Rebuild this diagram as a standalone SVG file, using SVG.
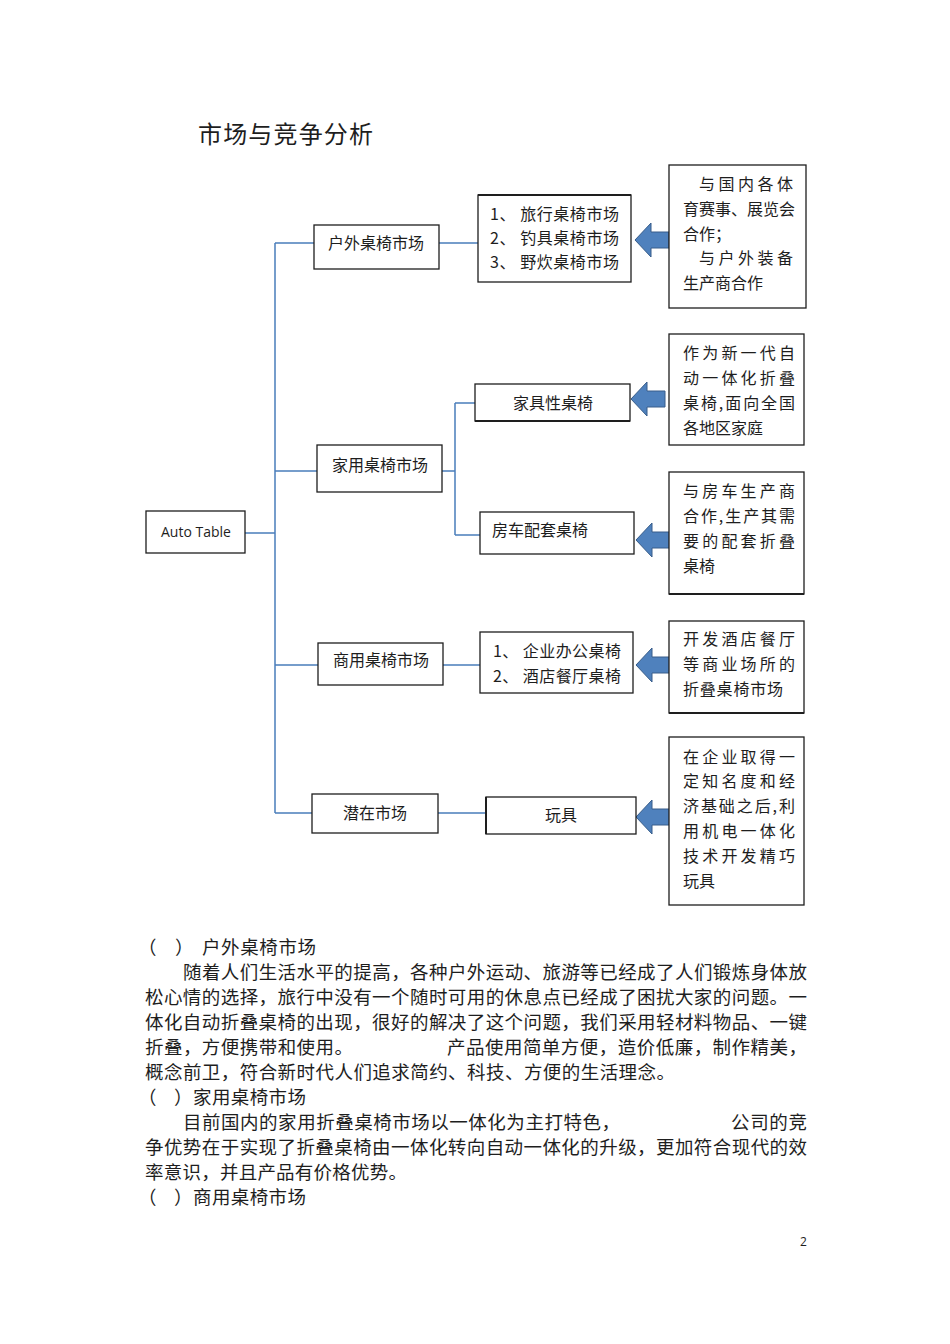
<svg xmlns="http://www.w3.org/2000/svg" width="950" height="1344" viewBox="0 0 950 1344">
<style>
.bx{fill:#fff;stroke:#1e1e1e;stroke-width:1.3}
.t{font-family:"Noto Sans CJK SC","Noto Sans",sans-serif;font-size:16px;fill:#1e1e1e}
.tc{font-family:"Noto Sans CJK SC","Noto Sans",sans-serif;font-size:16px;fill:#1e1e1e;text-anchor:middle}
.p{font-family:"Noto Sans CJK SC","Noto Sans",sans-serif;font-size:18.5px;fill:#1e1e1e}
.ln{fill:none;stroke:#4a7ebb;stroke-width:1.5}
.ar{fill:#4f81bd;stroke:#385d8a;stroke-width:1}
</style>
<defs>
<path id="arr" d="M0,0 L16,-17 L16,-8 L34,-8 L34,8 L16,8 L16,17 Z"/>
</defs>
<rect width="950" height="1344" fill="#fff"/>
<text x="198" y="143" style="font-family:'Noto Sans CJK SC',sans-serif;font-size:24px;fill:#1e1e1e" textLength="175">市场与竞争分析</text>

<g id="connectors">
<path class="ln" d="M245,533 H275 M275,243 V813 M275,243 H314 M275,471 H317 M275,665 H318 M275,813 H312"/>
<path class="ln" d="M439,243 H478 M442,471 H455 M455,403 V535 M455,403 H475 M455,535 H480 M443,665 H480 M438,813 H486"/>
<use href="#arr" class="ar" transform="translate(635,240)"/>
<use href="#arr" class="ar" transform="translate(631,399)"/>
<use href="#arr" class="ar" transform="translate(636,540)"/>
<use href="#arr" class="ar" transform="translate(636,665)"/>
<use href="#arr" class="ar" transform="translate(636,817)"/>
</g>

<g id="root">
<rect class="bx" x="146" y="511" width="99" height="42"/>
<text x="196" y="537" style="font-family:'Open Sans','Liberation Sans',sans-serif;font-size:14px;fill:#1e1e1e;text-anchor:middle">Auto Table</text>
</g>

<g id="n-outdoor">
<rect class="bx" x="314" y="225" width="125" height="44"/>
<text class="tc" x="376" y="249">户外桌椅市场</text>
</g>
<g id="n-outdoor-list">
<rect class="bx" x="478" y="195" width="153" height="87"/>
<line x1="478" y1="195" x2="631" y2="195" stroke="#1e1e1e" stroke-width="2"/>
<text class="t" x="490" y="220" textLength="129">1、 旅行桌椅市场</text>
<text class="t" x="490" y="244" textLength="129">2、 钓具桌椅市场</text>
<text class="t" x="490" y="268" textLength="129">3、 野炊桌椅市场</text>
</g>
<g id="n-outdoor-note">
<rect class="bx" x="669" y="165" width="137" height="143"/>
<text class="t" x="699" y="190" textLength="94">与国内各体</text>
<text class="t" x="683" y="215" textLength="112">育赛事、展览会</text>
<text class="t" x="683" y="240">合作；</text>
<text class="t" x="699" y="264" textLength="94">与户外装备</text>
<text class="t" x="683" y="289">生产商合作</text>
</g>

<g id="n-home">
<rect class="bx" x="317" y="445" width="125" height="47"/>
<text class="tc" x="380" y="471">家用桌椅市场</text>
</g>
<g id="n-furniture">
<rect class="bx" x="475" y="384" width="155" height="37"/>
<line x1="475" y1="421" x2="630" y2="421" stroke="#1e1e1e" stroke-width="2"/>
<text class="tc" x="553" y="409">家具性桌椅</text>
</g>
<g id="n-furniture-note">
<rect class="bx" x="669" y="334" width="135" height="111"/>
<text class="t" x="683" y="359" textLength="112">作为新一代自</text>
<text class="t" x="683" y="384" textLength="112">动一体化折叠</text>
<text class="t" x="683" y="409" textLength="112">桌椅,面向全国</text>
<text class="t" x="683" y="434">各地区家庭</text>
</g>
<g id="n-rv">
<rect class="bx" x="480" y="512" width="154" height="42"/>
<text class="t" x="492" y="536">房车配套桌椅</text>
</g>
<g id="n-rv-note">
<rect class="bx" x="669" y="472" width="135" height="122"/>
<line x1="669" y1="594" x2="804" y2="594" stroke="#1e1e1e" stroke-width="2"/>
<text class="t" x="683" y="497" textLength="112">与房车生产商</text>
<text class="t" x="683" y="522" textLength="112">合作,生产其需</text>
<text class="t" x="683" y="547" textLength="112">要的配套折叠</text>
<text class="t" x="683" y="572">桌椅</text>
</g>

<g id="n-commercial">
<rect class="bx" x="318" y="643" width="125" height="42"/>
<text class="tc" x="381" y="666">商用桌椅市场</text>
</g>
<g id="n-commercial-list">
<rect class="bx" x="480" y="632" width="153" height="61"/>
<text class="t" x="493" y="657" textLength="128">1、 企业办公桌椅</text>
<text class="t" x="493" y="682" textLength="128">2、 酒店餐厅桌椅</text>
</g>
<g id="n-commercial-note">
<rect class="bx" x="669" y="621" width="135" height="92"/>
<line x1="669" y1="713" x2="804" y2="713" stroke="#1e1e1e" stroke-width="2"/>
<text class="t" x="683" y="645" textLength="112">开发酒店餐厅</text>
<text class="t" x="683" y="670" textLength="112">等商业场所的</text>
<text class="t" x="683" y="695" textLength="100">折叠桌椅市场</text>
</g>

<g id="n-potential">
<rect class="bx" x="312" y="794" width="126" height="39"/>
<text class="tc" x="375" y="819">潜在市场</text>
</g>
<g id="n-toy">
<rect class="bx" x="486" y="797" width="150" height="37"/>
<line x1="486" y1="797" x2="486" y2="834" stroke="#1e1e1e" stroke-width="2"/>
<text class="tc" x="561" y="821">玩具</text>
</g>
<g id="n-toy-note">
<rect class="bx" x="669" y="737" width="135" height="168"/>
<text class="t" x="683" y="763" textLength="112">在企业取得一</text>
<text class="t" x="683" y="787" textLength="112">定知名度和经</text>
<text class="t" x="683" y="812" textLength="112">济基础之后,利</text>
<text class="t" x="683" y="837" textLength="112">用机电一体化</text>
<text class="t" x="683" y="862" textLength="112">技术开发精巧</text>
<text class="t" x="683" y="887">玩具</text>
</g>

<g id="body">
<text class="p" x="138" y="954">（</text>
<text class="p" x="175" y="954">）</text>
<text class="p" x="202" y="954" textLength="114">户外桌椅市场</text>
<text class="p" x="183" y="979" textLength="624">随着人们生活水平的提高，各种户外运动、旅游等已经成了人们锻炼身体放</text>
<text class="p" x="145" y="1004" textLength="662">松心情的选择，旅行中没有一个随时可用的休息点已经成了困扰大家的问题。一</text>
<text class="p" x="145" y="1029" textLength="662">体化自动折叠桌椅的出现，很好的解决了这个问题，我们采用轻材料物品、一键</text>
<text class="p" x="145" y="1054" textLength="208">折叠，方便携带和使用。</text>
<text class="p" x="447" y="1054" textLength="360">产品使用简单方便，造价低廉，制作精美，</text>
<text class="p" x="145" y="1079" textLength="530">概念前卫，符合新时代人们追求简约、科技、方便的生活理念。</text>
<text class="p" x="138" y="1104">（</text>
<text class="p" x="174" y="1104">）</text>
<text class="p" x="193" y="1104" textLength="113">家用桌椅市场</text>
<text class="p" x="183" y="1129" textLength="437">目前国内的家用折叠桌椅市场以一体化为主打特色，</text>
<text class="p" x="731" y="1129" textLength="76">公司的竞</text>
<text class="p" x="145" y="1154" textLength="662">争优势在于实现了折叠桌椅由一体化转向自动一体化的升级，更加符合现代的效</text>
<text class="p" x="145" y="1179" textLength="262">率意识，并且产品有价格优势。</text>
<text class="p" x="138" y="1204">（</text>
<text class="p" x="174" y="1204">）</text>
<text class="p" x="193" y="1204" textLength="113">商用桌椅市场</text>
<text x="800" y="1246" style="font-family:'Open Sans','Liberation Sans',sans-serif;font-size:12px;fill:#1e1e1e">2</text>
</g>
</svg>
